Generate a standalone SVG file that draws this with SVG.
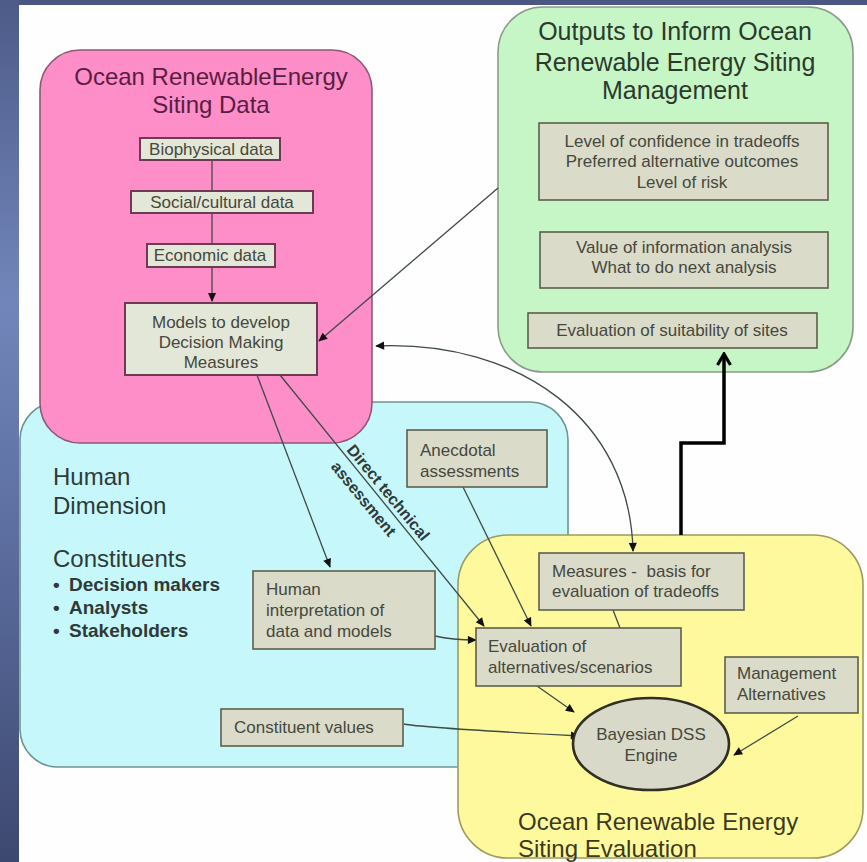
<svg xmlns="http://www.w3.org/2000/svg" width="867" height="862" viewBox="0 0 867 862">
<defs>
<linearGradient id="side" x1="0" y1="0" x2="0" y2="1">
<stop offset="0" stop-color="#4d5b88"/>
<stop offset="0.35" stop-color="#7286bb"/>
<stop offset="0.6" stop-color="#5e70a2"/>
<stop offset="1" stop-color="#3d4870"/>
</linearGradient>
<marker id="ah" viewBox="0 0 10 10" refX="9" refY="5" markerWidth="10" markerHeight="9" markerUnits="userSpaceOnUse" orient="auto-start-reverse">
<path d="M0,0.5 L10,5 L0,9.5 Z" fill="#111"/>
</marker>
<marker id="open" viewBox="0 0 16 16" refX="14" refY="8" markerWidth="16" markerHeight="16" markerUnits="userSpaceOnUse" orient="auto">
<path d="M3,1.5 L14,8 L3,14.5" fill="none" stroke="#000" stroke-width="3.2"/>
</marker>
</defs>
<style>
text { font-family: "Liberation Sans", Arial, sans-serif; }
.t { font-size: 17px; fill: #45483c; }
.ttl { font-size: 24px; }
.box { fill: #dbdbca; stroke: #5e5e4c; stroke-width: 1.6; }
.pbox { fill: #e3e7d8; stroke: #6d3a55; stroke-width: 2; }
.ln { fill: none; stroke: #3f4a48; stroke-width: 1.3; }
.pre { white-space: pre; }
</style>

<rect x="0" y="0" width="867" height="862" fill="#4a5783"/>
<rect x="0" y="0" width="19" height="862" fill="url(#side)"/>
<rect x="19" y="5" width="848" height="857" fill="#fefefe"/>

<g id="human-dimension">
<rect x="20" y="402" width="548" height="365" rx="38" fill="#c6f8fb" stroke="#6f9292" stroke-width="1.6"/>
<text class="ttl" x="53" y="485" fill="#2f3a38">Human</text>
<text class="ttl" x="53" y="514" fill="#2f3a38">Dimension</text>
<text class="ttl" x="53" y="567" fill="#2f3a38">Constituents</text>
<g font-size="19" font-weight="bold" fill="#2f3a38">
<text x="53" y="591">•</text><text x="69" y="591">Decision makers</text>
<text x="53" y="614">•</text><text x="69" y="614">Analysts</text>
<text x="53" y="637">•</text><text x="69" y="637">Stakeholders</text>
</g>
</g>

<g id="siting-data">
<rect x="40" y="50" width="332" height="393" rx="40" fill="#fd8ec7" stroke="#8c5a73" stroke-width="1.6"/>
<text class="ttl" x="211" y="85" text-anchor="middle" fill="#5a1d42">Ocean RenewableEnergy</text>
<text class="ttl" x="211" y="113" text-anchor="middle" fill="#5a1d42">Siting Data</text>
</g>

<g id="siting-evaluation">
<rect x="458" y="535" width="405" height="323" rx="50" fill="#fff99e" stroke="#9c9c5e" stroke-width="1.6"/>
<text class="ttl" x="518" y="830" fill="#3b3a1c">Ocean Renewable Energy</text>
<text class="ttl" x="518" y="857" fill="#3b3a1c">Siting Evaluation</text>
</g>

<g id="outputs">
<rect x="498" y="7" width="355" height="365" rx="45" fill="#c6f6c6" stroke="#8a9c8a" stroke-width="1.6"/>
<text x="675" y="40" text-anchor="middle" font-size="25" fill="#2c3a2c">Outputs to Inform Ocean</text>
<text x="675" y="71" text-anchor="middle" font-size="25" fill="#2c3a2c">Renewable Energy Siting</text>
<text x="675" y="99" text-anchor="middle" font-size="25" fill="#2c3a2c">Management</text>
</g>

<g id="connectors">
<path class="ln" d="M212,160 L212,301" stroke="#5a2a40" marker-end="url(#ah)"/>
<path class="ln" d="M498,188 L319,341" stroke="#555" marker-end="url(#ah)"/>
<path class="ln" d="M376,346 C520,340 630,420 633,551" stroke="#7a7a7a" marker-start="url(#ah)" marker-end="url(#ah)"/>
<path class="ln" d="M257,375 L330,567" marker-end="url(#ah)"/>
<path class="ln" d="M280,375 L484,626" marker-end="url(#ah)"/>
<path class="ln" d="M463,487 L531,626" marker-end="url(#ah)"/>
<path class="ln" d="M435,636 Q452,640 476,640" marker-end="url(#ah)"/>
<path class="ln" d="M537,686 L574,712" marker-end="url(#ah)"/>
<path class="ln" d="M404,724 Q425,728 579,736" marker-end="url(#ah)"/>
<path class="ln" d="M798,716 L734,755" marker-end="url(#ah)"/>
<path class="ln" d="M613,610 L620,628"/>
<path d="M681,535 L681,443 L724,443 L724,354" fill="none" stroke="#000" stroke-width="3.5" marker-end="url(#open)"/>
<g transform="translate(280,375) rotate(50.4)" font-size="16" font-weight="bold" fill="#2f3a38">
<text x="100" y="-3">Direct technical</text>
<text x="103" y="20">assessment</text>
</g>
</g>

<g id="biophysical">
<rect class="pbox" x="140" y="138" width="140" height="22"/>
<text class="t" x="211" y="154.5" text-anchor="middle">Biophysical data</text>
</g>
<g id="social">
<rect class="pbox" x="131" y="191" width="182" height="22"/>
<text class="t" x="222" y="207.5" text-anchor="middle">Social/cultural data</text>
</g>
<g id="economic">
<rect class="pbox" x="147" y="244" width="128" height="23"/>
<text class="t" x="210" y="260.5" text-anchor="middle">Economic data</text>
</g>
<g id="models">
<rect class="pbox" x="125" y="303" width="192" height="72"/>
<text class="t" x="221" y="328" text-anchor="middle">Models to develop</text>
<text class="t" x="221" y="348" text-anchor="middle">Decision Making</text>
<text class="t" x="221" y="368" text-anchor="middle">Measures</text>
</g>

<g id="confidence">
<rect class="box" x="539" y="123" width="289" height="77"/>
<text class="t" x="682" y="147" text-anchor="middle">Level of confidence in tradeoffs</text>
<text class="t" x="682" y="167" text-anchor="middle">Preferred alternative outcomes</text>
<text class="t" x="682" y="188" text-anchor="middle">Level of risk</text>
</g>
<g id="voi">
<rect class="box" x="540" y="232" width="288" height="56"/>
<text class="t" x="684" y="253" text-anchor="middle">Value of information analysis</text>
<text class="t" x="684" y="273" text-anchor="middle">What to do next analysis</text>
</g>
<g id="suitability">
<rect class="box" x="528" y="313" width="289" height="35"/>
<text class="t" x="672" y="336" text-anchor="middle">Evaluation of suitability of sites</text>
</g>

<g id="anecdotal">
<rect class="box" x="407" y="430" width="140" height="57"/>
<text class="t" x="420" y="456">Anecdotal</text>
<text class="t" x="420" y="477">assessments</text>
</g>
<g id="human-interpretation">
<rect class="box" x="253" y="571" width="182" height="78"/>
<text class="t" x="266" y="595">Human</text>
<text class="t" x="266" y="616">interpretation of</text>
<text class="t" x="266" y="637">data and models</text>
</g>
<g id="constituent-values">
<rect class="box" x="221" y="709" width="182" height="37"/>
<text class="t" x="234" y="733">Constituent values</text>
</g>

<g id="measures">
<rect class="box" x="539" y="553" width="205" height="57"/>
<text class="t pre" x="552" y="577">Measures -  basis for</text>
<text class="t" x="552" y="597">evaluation of tradeoffs</text>
</g>
<g id="evaluation">
<rect class="box" x="476" y="628" width="205" height="58"/>
<text class="t" x="488" y="652">Evaluation of</text>
<text class="t" x="488" y="673">alternatives/scenarios</text>
</g>
<g id="management">
<rect class="box" x="725" y="657" width="133" height="56"/>
<text class="t" x="737" y="679">Management</text>
<text class="t" x="737" y="700">Alternatives</text>
</g>
<g id="bayesian">
<ellipse cx="651" cy="744" rx="78" ry="46" fill="#d9d9c9" stroke="#2f2f22" stroke-width="2.6"/>
<text class="t" x="651" y="740" text-anchor="middle">Bayesian DSS</text>
<text class="t" x="651" y="761" text-anchor="middle">Engine</text>
</g>
</svg>
